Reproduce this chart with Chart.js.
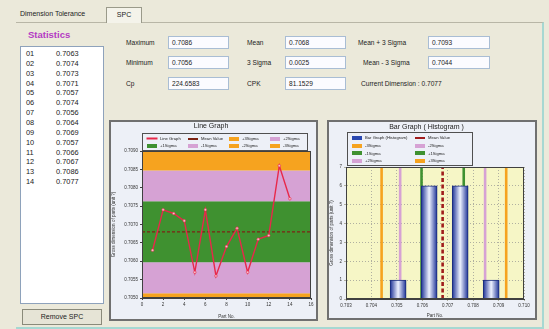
<!DOCTYPE html>
<html>
<head>
<meta charset="utf-8">
<script src="https://cdn.jsdelivr.net/npm/chart.js@4.4.1/dist/chart.umd.min.js"></script>
<style>
  html, body { margin: 0; padding: 0; }
  body { width: 549px; height: 329px; background: #ebe9da; position: relative; overflow: hidden;
         font-family: "Liberation Sans", Arial, sans-serif; color: #222; }
  .abs { position: absolute; }
  .tabtxt { font-size: 7px; }
  .tab { border: 1px solid #9a9a8a; border-bottom: none; background: #f4f3ea; font-size: 7px; text-align: center; line-height: 14px; }
  .page { border-right: 2px solid #a6d8d2; border-bottom: 2px solid #a6d8d2; border-top: 1px solid #b8b6a6; }
  .stat-title { font-size: 9.5px; font-weight: bold; color: #b43ac4; }
  .list { background: #fff; border: 1px solid #8ea2bb; }
  .row { position: absolute; font-size: 7.4px; }
  .btn { border: 1px solid #8a8a7a; background: #e6e4d6; font-size: 7px; text-align: center; line-height: 13px; }
  .lbl { font-size: 6.6px; }
  .box { background: #fbfbff; border: 1px solid #a9bdd4; font-size: 6.6px; line-height: 12px; padding-left: 3px; box-sizing: border-box; }
  .panel { border: 2px solid #707070; background: #edf0f7; box-sizing: border-box; }
  .legend { border: 1px solid #505050; box-sizing: border-box; font-size: 4.2px; }
  .legend .it { position: absolute; white-space: nowrap; }
  .legend .sw { display: inline-block; width: 10px; height: 4px; vertical-align: middle; margin-right: 3px; }
</style>
</head>
<body>
<div class="abs page" style="left:16px;top:22px;width:526px;height:304px;"></div>
<div class="abs tabtxt" style="left:20px;top:10px;">Dimension Tolerance</div>
<div class="abs tab" style="left:106px;top:7px;width:34px;height:15px;">SPC</div>

<div class="abs stat-title" style="left:28px;top:29px;">Statistics</div>
<div class="abs list" id="list" style="left:20px;top:46px;width:82px;height:256px;"></div>
<div class="abs btn" style="left:22px;top:309px;width:78px;height:14px;">Remove SPC</div>

<div id="fields"></div>

<div class="abs panel" style="left:109px;top:120px;width:209px;height:201px;"></div>
<div class="abs" style="left:111px;top:122px;width:205px;height:197px;"><canvas id="lineChart"></canvas></div>
<div class="abs legend" id="lineLegend" style="left:142px;top:133px;width:166px;height:18px;"></div>

<div class="abs panel" style="left:327px;top:120px;width:210px;height:200px;"></div>
<div class="abs" style="left:329px;top:122px;width:206px;height:196px;"><canvas id="barChart"></canvas></div>
<div class="abs legend" id="barLegend" style="left:347px;top:132px;width:126px;height:34px;"></div>

<script>
// measured dimension of each part
var partNo = [1, 2, 3, 4, 5, 6, 7, 8, 9, 10, 11, 12, 13, 14];
var dims = [0.7063, 0.7074, 0.7073, 0.7071, 0.7057, 0.7074, 0.7056, 0.7064, 0.7069, 0.7057, 0.7066, 0.7067, 0.7086, 0.7077];
var meanValue = 0.7068;

// sigma limits (line graph order)
var sigmaLabels = ['+3Sigma', '+2Sigma', '+1Sigma', '-1Sigma', '-2Sigma', '-3Sigma'];
var sigmaValues = [0.7093, 0.70847, 0.70763, 0.70597, 0.70513, 0.7044];
var bandColors = ['#f6a31f', '#d6a2d4', '#3f9130', '#d6a2d4', '#f6a31f', '#f6a31f'];
var sigmaLineColors = ['#f6a31f', '#d6a2d4', '#3f9130', '#3f9130', '#d6a2d4', '#f6a31f'];

// histogram
var histBins = [0.70505, 0.70627, 0.70749, 0.70871];
var histCounts = [1, 6, 6, 1];

// summary fields
var fieldLabels = [['Maximum', 'Mean', 'Mean + 3 Sigma'], ['Minimum', '3 Sigma', 'Mean - 3 Sigma'], ['Cp', 'CPK']];
var fieldValues = [['0.7086', '0.7068', '0.7093'], ['0.7056', '0.0025', '0.7044'], ['224.6583', '81.1529']];
var currentDimension = '0.7077';

var lineXTicks = [0, 16, 2];
var lineYTicks = [0.7050, 0.7090, 0.0005];
var barXTicks = [0.703, 0.710, 0.001];
var barYTicks = [0, 7, 1];

// ---- left list
var list = document.getElementById('list');
dims.forEach(function (d, i) {
  var r = document.createElement('div');
  r.className = 'row';
  r.style.top = (2 + i * 9.85) + 'px';
  r.style.left = '5px';
  r.innerHTML = '<span>' + String(partNo[i]).padStart(2, '0') + '</span><span style="position:absolute;left:30px">' + d.toFixed(4) + '</span>';
  list.appendChild(r);
});

// ---- fields
var fields = document.getElementById('fields');
var colLbl = [126, 247, 358], colBox = [168, 285, 428], rowY = [36, 56, 77];
fieldLabels.forEach(function (row, r) {
  row.forEach(function (t, c) {
    var l = document.createElement('div');
    l.className = 'abs lbl';
    l.style.left = (c == 2 && r == 1 ? 363 : colLbl[c]) + 'px';
    l.style.top = (rowY[r] + 3) + 'px';
    l.textContent = t;
    fields.appendChild(l);
    var b = document.createElement('div');
    b.className = 'abs box';
    b.style.left = colBox[c] + 'px';
    b.style.top = rowY[r] + 'px';
    b.style.width = (c == 2 ? 62 : 61) + 'px';
    b.style.height = '13px';
    b.textContent = fieldValues[r][c];
    fields.appendChild(b);
  });
});
var cd = document.createElement('div');
cd.className = 'abs lbl';
cd.style.left = '361px'; cd.style.top = '80px';
cd.textContent = 'Current Dimension  :  ' + currentDimension;
fields.appendChild(cd);

Chart.defaults.font.family = '"Liberation Sans", Arial, sans-serif';
Chart.defaults.color = '#333';

var plotFrame = {
  id: 'plotFrame',
  beforeDraw: function (chart, args, opts) {
    if (!opts.bg) return;
    var a = chart.chartArea, c = chart.ctx;
    c.save(); c.fillStyle = opts.bg; c.fillRect(a.left, a.top, a.width, a.height); c.restore();
  },
  afterDraw: function (chart) {
    var a = chart.chartArea, c = chart.ctx;
    c.save(); c.strokeStyle = '#404040'; c.lineWidth = 1;
    c.strokeRect(a.left + 0.5, a.top + 0.5, a.width - 1, a.height - 1); c.restore();
  }
};

function flat(v) { return [{ x: lineXTicks[0], y: v }, { x: lineXTicks[1], y: v }]; }

// ---- line graph
var lineDatasets = [
  { label: 'Line Graph', data: partNo.map(function (p, i) { return { x: p, y: dims[i] }; }),
    borderColor: '#e8284a', borderWidth: 1.4, pointRadius: 1.3, pointBackgroundColor: '#f7c0cc',
    pointBorderColor: '#e8284a', pointBorderWidth: 0.6, fill: false, tension: 0 },
  { label: 'Mean Value', data: flat(meanValue), borderColor: '#7c2414', borderWidth: 1.1,
    borderDash: [3, 2], pointRadius: 0, fill: false }
];
sigmaLabels.forEach(function (l, i) {
  lineDatasets.push({ label: l, data: flat(sigmaValues[i]), borderWidth: 0, pointRadius: 0,
    borderColor: bandColors[i], backgroundColor: bandColors[i], fill: i < sigmaLabels.length - 1 ? '+1' : false });
});

new Chart(document.getElementById('lineChart'), {
  type: 'line',
  data: { datasets: lineDatasets },
  options: {
    animation: false, responsive: true, maintainAspectRatio: false,
    layout: { padding: { top: 0, right: 5, bottom: 0, left: 0 } },
    plugins: {
      legend: { display: false }, tooltip: { enabled: false },
      title: { display: true, text: 'Line Graph', color: '#222', font: { size: 7, weight: 'normal' }, padding: { top: 0, bottom: 20.6 } },
      plotFrame: {}
    },
    scales: {
      x: { type: 'linear', min: lineXTicks[0], max: lineXTicks[1],
        ticks: { stepSize: lineXTicks[2], font: { size: 4.5 }, padding: 2 },
        grid: { drawOnChartArea: false, tickLength: 2, color: '#404040' }, border: { color: '#404040' },
        title: { display: true, text: 'Part No.', font: { size: 4.5 }, padding: 0 },
        afterFit: function (s) { s.height = 21; } },
      y: { min: lineYTicks[0], max: lineYTicks[1],
        ticks: { stepSize: lineYTicks[2], font: { size: 4.5 }, padding: 2, callback: function (v) { return v.toFixed(4); } },
        grid: { drawOnChartArea: false, tickLength: 2, color: '#404040' }, border: { color: '#404040' },
        title: { display: true, text: 'Gross dimension of parts (unit ?)', font: { size: 4.5 }, padding: 0 },
        afterFit: function (s) { s.width = 31; } }
    }
  },
  plugins: [plotFrame]
});

// ---- bar graph (histogram)
var barDatasets = [
  { type: 'bar', label: 'Bar Graph (Histogram)', order: 0,
    data: histBins.map(function (b, i) { return { x: b, y: histCounts[i] }; }),
    barThickness: 16, borderColor: '#1a2c7a', borderWidth: 1,
    backgroundColor: function (c) {
      var sx = c.chart.scales.x;
      if (!sx || !c.raw) return '#2a48b0';
      var cx = sx.getPixelForValue(c.raw.x);
      if (!isFinite(cx)) return '#2a48b0';
      var g = c.chart.ctx.createLinearGradient(cx - 8, 0, cx + 8, 0);
      g.addColorStop(0, '#1c3196'); g.addColorStop(0.5, '#eef2ff'); g.addColorStop(1, '#1c3196');
      return g;
    } },
  { type: 'line', label: 'Mean Value', order: -1, data: [{ x: meanValue, y: barYTicks[0] }, { x: meanValue, y: barYTicks[1] }],
    borderColor: '#a01c1c', borderWidth: 2.6, borderDash: [4, 2.5], pointRadius: 0 }
];
var barSigmaOrder = [5, 4, 3, 2, 1, 0];
barSigmaOrder.forEach(function (k) {
  barDatasets.push({ type: 'line', label: sigmaLabels[k], order: 1,
    data: [{ x: sigmaValues[k], y: barYTicks[0] }, { x: sigmaValues[k], y: barYTicks[1] }],
    borderColor: sigmaLineColors[k], borderWidth: 2.6, pointRadius: 0 });
});

new Chart(document.getElementById('barChart'), {
  type: 'bar',
  data: { datasets: barDatasets },
  options: {
    animation: false, responsive: true, maintainAspectRatio: false,
    layout: { padding: { top: 0, right: 11, bottom: 0, left: 0 } },
    plugins: {
      legend: { display: false }, tooltip: { enabled: false },
      title: { display: true, text: 'Bar Graph ( Histogram )', color: '#222', font: { size: 7, weight: 'normal' }, padding: { top: 1, bottom: 35.6 } },
      plotFrame: { bg: '#f6f6c6' }
    },
    scales: {
      x: { type: 'linear', min: barXTicks[0], max: barXTicks[1], offset: false,
        ticks: { stepSize: barXTicks[2], font: { size: 4.5 }, padding: 2, callback: function (v) { return v.toFixed(3); } },
        grid: { color: '#b0b0a0', tickLength: 2, offset: false }, border: { color: '#404040', dash: [1, 2] },
        title: { display: true, text: 'Part No.', font: { size: 4.5 }, padding: 0 },
        afterFit: function (s) { s.height = 19; } },
      y: { min: barYTicks[0], max: barYTicks[1],
        ticks: { stepSize: barYTicks[2], font: { size: 4.5 }, padding: 2 },
        grid: { color: '#b0b0a0', tickLength: 2 }, border: { color: '#404040', dash: [1, 2] },
        title: { display: true, text: 'Gross dimension of parts (unit ?)', font: { size: 4.5 }, padding: 0 },
        afterFit: function (s) { s.width = 17; } }
    }
  },
  plugins: [plotFrame]
});

// ---- legends (html, built from dataset styles)
function legendItem(parent, x, y, text, color, kind) {
  var d = document.createElement('div');
  d.className = 'it';
  d.style.left = x + 'px'; d.style.top = y + 'px';
  var sw = '<span class="sw" style="background:' + color + '"></span>';
  if (kind === 'line') sw = '<span class="sw" style="height:1px;background:' + color + ';box-shadow:0 0 0 0.5px ' + color + '"></span>';
  if (kind === 'dash') sw = '<span class="sw" style="height:0;border-top:2px dashed ' + color + '"></span>';
  d.innerHTML = sw + text;
  parent.appendChild(d);
}
var ll = document.getElementById('lineLegend');
lineDatasets.forEach(function (ds, i) {
  var col = i % 4, row = Math.floor(i / 4);
  var kind = i === 0 ? 'line' : (i === 1 ? 'dash' : 'fill');
  legendItem(ll, 4 + col * 41, 2 + row * 7, ds.label, ds.borderColor, kind);
});
var bl = document.getElementById('barLegend');
barDatasets.forEach(function (ds, i) {
  var col = i % 2, row = Math.floor(i / 2);
  var color = i === 0 ? '#2a48b0' : ds.borderColor;
  legendItem(bl, 4 + col * 63, 2 + row * 7.8, ds.label, color, i === 1 ? 'dash' : 'fill');
});
</script>
</body>
</html>
